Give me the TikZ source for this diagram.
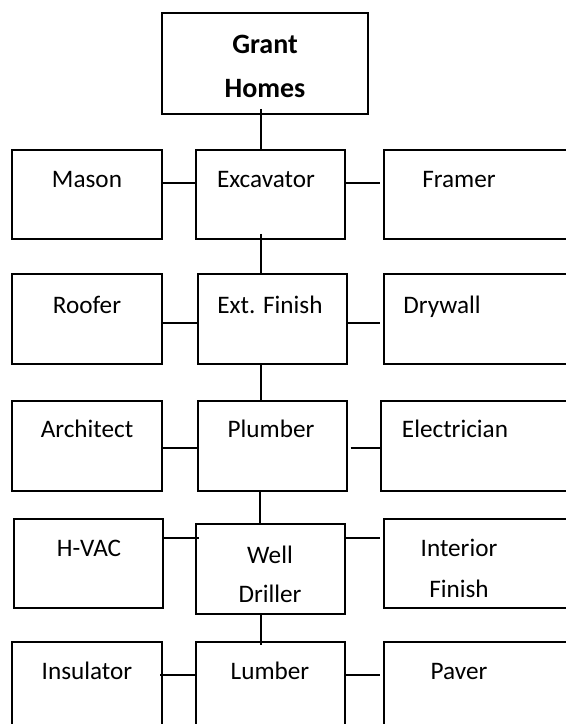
\documentclass[tikz,border=0pt]{standalone}
\usepackage{fontspec}
\setmainfont{Carlito}
\usetikzlibrary{calc, fit}

\begin{document}
\begin{tikzpicture}[x=0.75pt, y=-0.75pt,
  box/.style={draw, line width=1.3pt, inner sep=0pt},
  txt/.style={font=\fontsize{18.9}{30}\selectfont, inner sep=0pt, anchor=base},
  twoline/.style={txt, align=center, anchor=center},
  link/.style={line width=1.3pt}]
\useasboundingbox (0,0) rectangle (566,724);
\clip (0,0) rectangle (566,724);
% levels of the connectors
\coordinate (sp) at (261,0);
\coordinate (r1) at (0,183);
\coordinate (r2) at (0,323);
\coordinate (r3) at (0,448);
\coordinate (r4) at (0,538);
\coordinate (r5) at (0,675);
% boxes
\node[box, fit={(162,13) (368,114)}] (grant) {};
\node[box, fit={(12,150) (162,239)}] (mason) {};
\node[box, fit={(196,150) (345,239)}] (exc) {};
\node[box, fit={(384,150) (600,239)}] (framer) {};
\node[box, fit={(12,274) (162,364)}] (roofer) {};
\node[box, fit={(198,274) (347,364)}] (ext) {};
\node[box, fit={(384,274) (600,364)}] (drywall) {};
\node[box, fit={(12,401) (162,491)}] (arch) {};
\node[box, fit={(198,401) (347,491)}] (plumb) {};
\node[box, fit={(381,401) (600,491)}] (elec) {};
\node[box, fit={(14,519) (163,608)}] (hvac) {};
\node[box, fit={(196,524) (345,614)}] (well) {};
\node[box, fit={(384,519) (600,608)}] (inter) {};
\node[box, fit={(12,642) (162,740)}] (insul) {};
\node[box, fit={(196,642) (345,740)}] (lumber) {};
\node[box, fit={(384,642) (600,740)}] (paver) {};
% texts
\node[twoline, font=\bfseries\fontsize{21}{33}\selectfont] (grant-t) at (265,66) {Grant\\Homes};
\node[txt] (mason-t) at (87,187) {Mason};
\node[txt] (exc-t) at (266,187) {Excavator};
\node[txt] (framer-t) at (459,187) {Framer};
\node[txt] (roofer-t) at (87,313) {Roofer};
\node[txt] (ext-t) at (270,313) {Ext. Finish};
\node[txt] (drywall-t) at (442,313) {Drywall};
\node[txt] (arch-t) at (87,437) {Architect};
\node[txt] (plumb-t) at (271,437) {Plumber};
\node[txt] (elec-t) at (455,437) {Electrician};
\node[txt] (hvac-t) at (89,556) {H-VAC};
\node[twoline, font=\fontsize{18.9}{29.3}\selectfont] (well-t) at (270,574) {Well\\Driller};
\node[twoline, font=\fontsize{18.9}{30.8}\selectfont] (inter-t) at (459,568.5) {Interior\\Finish};
\node[txt] (insul-t) at (87,679) {Insulator};
\node[txt] (lumber-t) at (270,679) {Lumber};
\node[txt] (paver-t) at (459,679) {Paver};
% the spine
\draw[link, shorten <=-4.5pt] (grant.south -| sp) -- (exc.north -| sp);
\draw[link, shorten <=-4.5pt] (exc.south -| sp) -- (ext.north -| sp);
\draw[link] (ext.south -| sp) -- (plumb.north -| sp);
\draw[link] ($(plumb.south -| sp)+(-1,0)$) -- ($(well.north -| sp)+(-1,0)$);
\draw[link, shorten >=-3pt] (well.south -| sp) -- (lumber.north -| sp);
% side links
\draw[link] (mason.east |- r1) -- (exc.west |- r1);
\draw[link, shorten >=2pt] (exc.east |- r1) -- (framer.west |- r1);
\draw[link] (roofer.east |- r2) -- (ext.west |- r2);
\draw[link, shorten >=2pt] (ext.east |- r2) -- (drywall.west |- r2);
\draw[link] (arch.east |- r3) -- (plumb.west |- r3);
\draw[link, shorten <=2pt] (plumb.east |- r3) -- (elec.west |- r3);
\draw[link, shorten >=-3pt] (hvac.east |- r4) -- (well.west |- r4);
\draw[link, shorten >=2pt] (well.east |- r4) -- (inter.west |- r4);
\draw[link, shorten <=-2pt] (insul.east |- r5) -- (lumber.west |- r5);
\draw[link, shorten >=2pt] (lumber.east |- r5) -- (paver.west |- r5);
\end{tikzpicture}
\end{document}
